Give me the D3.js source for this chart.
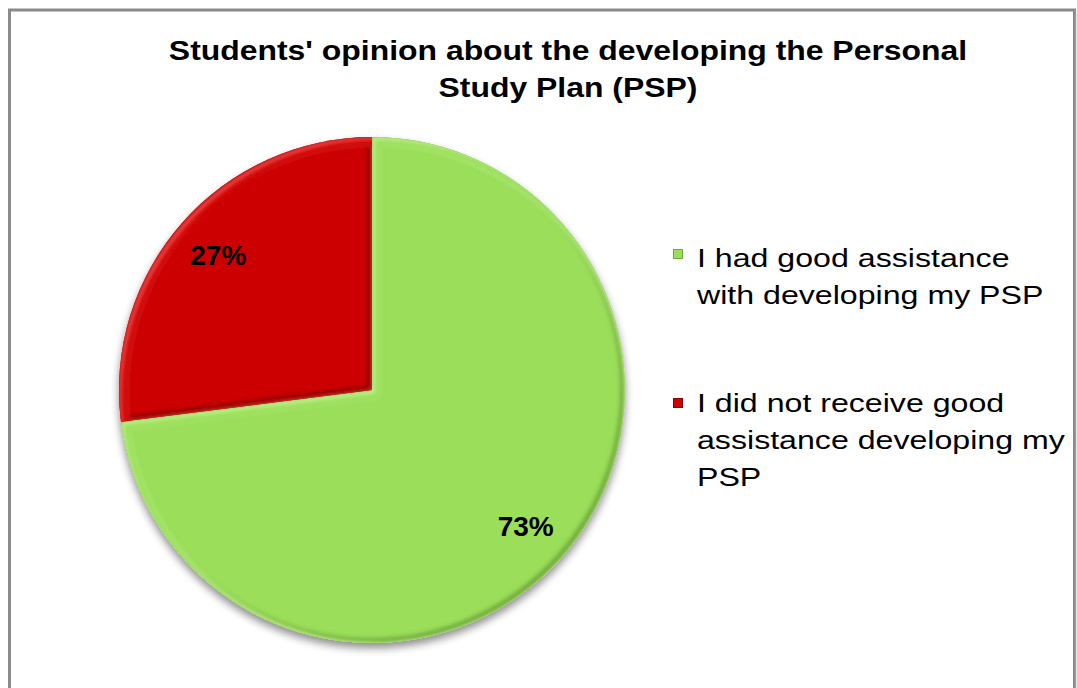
<!DOCTYPE html>
<html>
<head>
<meta charset="utf-8">
<script src="https://cdn.jsdelivr.net/npm/d3@7"></script>
<style>
  html, body { margin: 0; padding: 0; background: #fff; }
  svg { display: block; }
</style>
</head>
<body>
<svg id="chart" width="1077" height="688"></svg>
<script>
const titleLines = ["Students' opinion about the developing the Personal", "Study Plan (PSP)"];
const categories = ["I had good assistance with developing my PSP", "I did not receive good assistance developing my PSP"];
const legendLines = [["I had good assistance", "with developing my PSP"], ["I did not receive good", "assistance developing my", "PSP"]];
const values = [73, 27];
const colors = ["#9ade5a", "#cc0404"];
const edgeColors = ["#6fa83a", "#8a0000"];
const lightColors = ["#c8f596", "#f25050"];

const svg = d3.select("#chart");
const FONT = "'Liberation Sans', Arial, sans-serif";

// frame
svg.append("rect").attr("x", 9.5).attr("y", 10).attr("width", 1065).attr("height", 700)
  .attr("fill", "#fff").attr("stroke", "#8a8a8a").attr("stroke-width", 3);
svg.append("line").attr("x1", 1075.5).attr("x2", 1075.5).attr("y1", 10).attr("y2", 688)
  .attr("stroke", "#9a9a9a").attr("stroke-width", 1.5);

// title (horizontally stretched like the reference)
const titleG = svg.append("g").attr("transform", "translate(568,0) scale(1.14,1)");
titleG.append("text").attr("x", 0).attr("y", 60)
  .attr("text-anchor", "middle")
  .style("font-family", FONT)
  .style("font-weight", "bold").style("font-size", "28px").attr("fill", "#000")
  .selectAll("tspan").data(titleLines).join("tspan")
  .attr("x", 0).attr("dy", (d, i) => i === 0 ? 0 : 37).text(d => d);

const cx = 372, cy = 390, r = 253;
const defs = svg.append("defs");
const shadow = defs.append("filter").attr("id", "shadow").attr("x", "-20%").attr("y", "-20%").attr("width", "140%").attr("height", "140%");
shadow.append("feGaussianBlur").attr("in", "SourceAlpha").attr("stdDeviation", 4).attr("result", "b");
shadow.append("feOffset").attr("in", "b").attr("dx", 0).attr("dy", 5).attr("result", "o");
shadow.append("feComponentTransfer").attr("in", "o").attr("result", "s")
  .append("feFuncA").attr("type", "linear").attr("slope", 0.45);
const m = shadow.append("feMerge");
m.append("feMergeNode").attr("in", "s");
m.append("feMergeNode").attr("in", "SourceGraphic");

const blur = defs.append("filter").attr("id", "blur");
blur.append("feGaussianBlur").attr("stdDeviation", 2);

const pie = d3.pie().sort(null).value(d => d);
const arcs = pie(values);
const arc = d3.arc().innerRadius(0).outerRadius(r);
const labelArc = d3.arc().innerRadius(r * 0.81).outerRadius(r * 0.81);

const g = svg.append("g").attr("transform", `translate(${cx},${cy})`);
const pieG = g.append("g").attr("filter", "url(#shadow)");

arcs.forEach((a, i) => {
  defs.append("clipPath").attr("id", "clip" + i).append("path").attr("d", arc(a));
  const sg = pieG.append("g");
  sg.append("path").attr("d", arc(a)).attr("fill", colors[i]);
  const cg = sg.append("g").attr("clip-path", `url(#clip${i})`);
  cg.append("path").attr("d", arc(a)).attr("fill", "none")
    .attr("stroke", edgeColors[i]).attr("stroke-width", 6).attr("filter", "url(#blur)")
    .attr("transform", "translate(-1.5,-1.5)");
  cg.append("path").attr("d", arc(a)).attr("fill", "none")
    .attr("stroke", lightColors[i]).attr("stroke-width", 8).attr("filter", "url(#blur)")
    .attr("transform", "translate(3.5,3.5)").attr("opacity", 0.95);
  cg.append("path").attr("d", arc(a)).attr("fill", "none")
    .attr("stroke", colors[i]).attr("stroke-width", 6).attr("filter", "url(#blur)")
    .attr("transform", "translate(6,6)");
});

g.selectAll("text.lbl").data(arcs).join("text").attr("class", "lbl")
  .attr("transform", d => `translate(${labelArc.centroid(d)})`)
  .attr("text-anchor", "middle").attr("dy", "0.36em")
  .style("font-family", FONT)
  .style("font-weight", "bold").style("font-size", "28px")
  .text(d => Math.round(d.data) + "%");

// legend
const markerY = [249, 398];
const textY = [267, 412];
legendLines.forEach((lines, i) => {
  const lg = svg.append("g");
  lg.append("rect").attr("x", 673.5).attr("y", markerY[i] + 0.5).attr("width", 9).attr("height", 9)
    .attr("fill", colors[i]).attr("stroke", edgeColors[i]).attr("stroke-width", 1);
  const tg = lg.append("g").attr("transform", `translate(697,${textY[i]}) scale(1.26,1)`);
  tg.append("text").attr("x", 0).attr("y", 0)
    .style("font-family", FONT)
    .style("font-size", "25.5px").attr("fill", "#000")
    .selectAll("tspan").data(lines).join("tspan")
    .attr("x", 0).attr("dy", (d, j) => j === 0 ? 0 : 37).text(d => d);
});
</script>
</body>
</html>
